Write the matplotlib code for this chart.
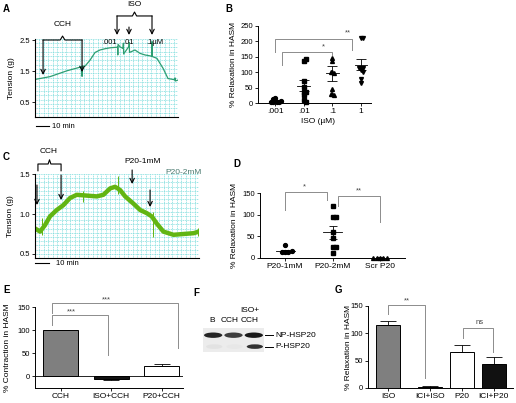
import numpy as np
import matplotlib.pyplot as plt
from matplotlib.patches import Rectangle, Ellipse

plt.rcParams['font.family'] = ['Liberation Sans', 'DejaVu Sans']
plt.rcParams['font.size'] = 5
plt.rcParams['axes.linewidth'] = 0.7
plt.rcParams['xtick.major.size'] = 2
plt.rcParams['ytick.major.size'] = 2
plt.rcParams['xtick.major.width'] = 0.6
plt.rcParams['ytick.major.width'] = 0.6
plt.rcParams['xtick.major.pad'] = 1.5
plt.rcParams['ytick.major.pad'] = 1.5

# ---- values ----
# A: tension trace (min, g)
a_time = [0, 11.5, 24.6, 36.0, 36.2, 36.4, 38.5, 42.3, 46.2, 50, 53.8, 57.7,
          63.5, 63.7, 63.9, 65.4, 67.7, 68.0, 68.2, 72.3, 72.5, 72.7, 76.9,
          80.8, 84.6, 89.9, 90.0, 90.2, 93.8, 98.5, 102.3, 107.5, 107.7, 107.9, 110]
a_tension = [1.23, 1.32, 1.51, 1.64, 1.33, 1.66, 1.66, 1.85, 2.10, 2.18, 2.22, 2.25,
             2.27, 2.02, 2.36, 2.28, 2.23, 2.40, 2.05, 2.30, 2.42, 2.10, 2.18,
             2.07, 2.02, 1.98, 2.45, 1.97, 1.91, 1.59, 1.26, 1.22, 1.28, 1.18, 1.21]
a_cch_times = [6.2, 36.2]
a_iso_times = [63.1, 72.3, 90.0]
a_iso_labels = ['.001', '.01', '.1\u00b5M']
a_label_times = [57.7, 72.3, 92.3]

# B: relaxation vs ISO dose
b_labels = ['.001', '.01', '.1', '1']
b_001 = [15, 6, 3, 2, 2, 4, 5, 14]
b_01 = [137, 143, 70, 51, 37, 37, 26, 10, 4]
b_1 = [146, 135, 102, 99, 100, 45, 29, 26, 28]
b_10 = [211, 211, 106, 113, 113, 102, 77, 66]
b_mean = [5, 56, 97, 124]
b_sem = [2, 18, 24, 18]

# C: tension trace, P20
c_time = [0, 3.6, 7.1, 10.7, 15.5, 20.2, 25, 29.8, 36.9, 44.1, 48.8, 53.6, 57.1,
          60.7, 64.3, 70.2, 75, 79.8, 83.3, 86.9, 91.6, 98.8, 105.9, 113.1, 117]
c_tension = [0.82, 0.78, 0.86, 0.97, 1.05, 1.11, 1.20, 1.24, 1.23, 1.22, 1.24, 1.32, 1.34,
             1.30, 1.22, 1.13, 1.05, 1.01, 0.97, 0.88, 0.78, 0.74, 0.75, 0.76, 0.78]
c_spike_t = [5, 34, 59, 84, 116]
c_spike_lo = [0.74, 1.15, 1.25, 0.71, 0.72]
c_spike_hi = [0.95, 1.29, 1.47, 1.02, 0.83]
c_cch_times = [1.4, 18.6]
c_p20_times = [69.3, 82.1]

# D: relaxation, P20
d_labels = ['P20-1mM', 'P20-2mM', 'Scr P20']
d_1mm = [30, 13, 13, 13, 17]
d_2mm = [121, 95, 95, 59, 46, 26, 26, 11]
d_scr = [1, 1, 1, 1, 1]
d_mean = [16, 59, 1]
d_sem = [3, 15, 0.3]

# E: contraction
e_labels = ['CCH', 'ISO+CCH', 'P20+CCH']
e_vals = [100, -5, 22]
e_err = [0, 2, 4]

# F: blot band intensities (lanes B, CCH, ISO+CCH)
f_np = [0.9, 0.8, 0.95]
f_p = [0.12, 0.1, 0.85]

# G: relaxation with ICI
g_labels = ['ISO', 'ICI+ISO', 'P20', 'ICI+P20']
g_pos = [0, 1.3, 2.3, 3.3]
g_vals = [116, 2, 66, 44]
g_err = [6, 1, 13, 12]

W, H = 516, 403
fig = plt.figure(figsize=(W / 100, H / 100), dpi=100)
LAB = 6
TCK = 5.5


def px_axes(l, t, r, b):
    return fig.add_axes([l / W, 1 - b / H, (r - l) / W, (b - t) / H])


def letter(x, y, s):
    fig.text(x / W, 1 - y / H, s, fontsize=7, weight='bold', va='center')


def chart_paper(ax, nx, ny):
    x0, x1 = ax.get_xlim()
    y0, y1 = ax.get_ylim()
    for x in np.linspace(x0, x1, nx):
        ax.axvline(x, color='#74dada', lw=0.5, ls=(0, (1.5, 1)), zorder=0)
    for y in np.linspace(y0, y1, ny):
        ax.axhline(y, color='#74dada', lw=0.5, ls=(0, (1.5, 1)), zorder=0)


def down_arrow(ax, x, y0, y1):
    ax.annotate('', xy=(x, y1), xytext=(x, y0), xycoords=ax.get_xaxis_transform(),
                arrowprops=dict(arrowstyle='->', lw=0.8, color='k', shrinkA=0,
                                shrinkB=0, mutation_scale=8),
                annotation_clip=False)


def brace(ax, x1, x2, y, h, legs):
    xm = (x1 + x2) / 2
    d = (x2 - x1) * 0.06
    ax.plot([x1, x1, xm - d, xm, xm + d, x2, x2],
            [y - legs, y, y, y + h, y, y, y - legs],
            color='k', lw=0.8, transform=ax.get_xaxis_transform(), clip_on=False)


def sig(ax, x1, x2, top, y1, y2, label, tx, ty):
    ax.plot([x1, x1, x2, x2], [y1, top, top, y2], color='#8c8c8c', lw=0.7, clip_on=False)
    ax.text(tx, ty, label, ha='center', va='center', fontsize=5.5, color='#444444')


def spread(vals, tol, step):
    offs, placed = [], []
    for v in vals:
        k = sum(1 for p in placed if abs(p - v) < tol)
        placed.append(v)
        sign = 1 if k % 2 else -1
        offs.append(0 if k == 0 else sign * ((k + 1) // 2) * step)
    return np.array(offs)


def clean(ax):
    ax.spines['top'].set_visible(False)
    ax.spines['right'].set_visible(False)
    ax.tick_params(labelsize=TCK)


def trace_panel(ax, ticks):
    clean(ax)
    ax.set_xticks([])
    ax.set_yticks(ticks)
    ax.spines['left'].set_linewidth(0.8)
    ax.spines['bottom'].set_linewidth(0.8)


# ---- A ----
letter(3, 9, 'A')
ax = px_axes(35, 38.5, 178, 117)
ax.set_xlim(0, 110)
ax.set_ylim(0.02, 2.55)
chart_paper(ax, 33, 19)
ax.plot(a_time, a_tension, color='#2e9e72', lw=0.9)
trace_panel(ax, [0.5, 1.5, 2.5])
ax.set_ylabel('Tension (g)', fontsize=LAB)
ax.yaxis.set_label_coords(-0.14, 0.5)
brace(ax, a_cch_times[0], a_cch_times[1], 0.981, 0.05, 0)
ax.text(np.mean(a_cch_times), 1.172, 'CCH', transform=ax.get_xaxis_transform(),
        ha='center', va='center', fontsize=LAB)
down_arrow(ax, a_cch_times[0], 0.981, 0.535)
down_arrow(ax, a_cch_times[1], 0.981, 0.573)
brace(ax, a_iso_times[0], a_iso_times[2], 1.287, 0.05, 0)
ax.text(np.mean([a_iso_times[0], a_iso_times[2]]), 1.43, 'ISO',
        transform=ax.get_xaxis_transform(), ha='center', va='center', fontsize=LAB)
down_arrow(ax, a_iso_times[0], 1.287, 1.045)
down_arrow(ax, a_iso_times[1], 1.146, 1.045)
down_arrow(ax, a_iso_times[2], 1.287, 1.045)
for t, s in zip(a_label_times, a_iso_labels):
    ax.text(t, 0.955, s, transform=ax.get_xaxis_transform(), ha='center',
            va='center', fontsize=TCK)
ax.plot([0.8, 10.8], [-0.115, -0.115], color='k', lw=0.8,
        transform=ax.get_xaxis_transform(), clip_on=False)
ax.text(13, -0.115, '10 min', transform=ax.get_xaxis_transform(), va='center', fontsize=TCK)

# ---- B ----
letter(225, 9, 'B')
ax = px_axes(258, 26, 371, 103)
clean(ax)
ax.set_xlim(-0.6, 3.35)
ax.set_ylim(0, 250)
for i, (pts, m) in enumerate(zip([b_001, b_01, b_1, b_10], ['o', 's', '^', 'v'])):
    ax.plot(i + spread(pts, 9, 0.065), pts, m, color='k', ms=2.8, ls='none', clip_on=False)
    ax.plot([i - 0.22, i + 0.22], [b_mean[i]] * 2, color='k', lw=0.6)
    ax.errorbar(i, b_mean[i], yerr=b_sem[i], color='k', lw=0.6, capsize=3.5, capthick=0.6)
ax.set_xticks(range(4))
ax.set_xticklabels(b_labels, fontsize=LAB)
ax.set_yticks(range(0, 251, 50))
ax.set_ylabel('% Relaxation in HASM', fontsize=LAB)
ax.yaxis.set_label_coords(-0.19, 0.5)
ax.set_xlabel('ISO (\u00b5M)', fontsize=LAB)
ax.xaxis.set_label_coords(0.53, -0.2)
sig(ax, 0, 2.68, 209, 167, 173, '**', 2.54, 229)
sig(ax, 0.24, 1.99, 167, 124, 157, '*', 1.67, 183)

# ---- C ----
letter(3, 157, 'C')
ax = px_axes(35, 174, 199, 258)
ax.set_xlim(0, 117)
ax.set_ylim(0.45, 1.5)
chart_paper(ax, 38, 21)
ax.plot(c_time, c_tension, color='#62b512', lw=3.2, solid_capstyle='butt')
ax.vlines(c_spike_t, c_spike_lo, c_spike_hi, color='#62b512', lw=0.7)
trace_panel(ax, [0.5, 1.0, 1.5])
ax.set_ylabel('Tension (g)', fontsize=LAB)
ax.yaxis.set_label_coords(-0.125, 0.5)
brace(ax, c_cch_times[0] + 0.7, c_cch_times[1], 1.119, 0.05, 0.08)
ax.text(np.mean(c_cch_times), 1.262, 'CCH', transform=ax.get_xaxis_transform(),
        ha='center', va='center', fontsize=LAB)
down_arrow(ax, c_cch_times[0], 0.869, 0.631)
down_arrow(ax, c_cch_times[1], 0.988, 0.690)
ax.text(77, 1.143, 'P20-1mM', transform=ax.get_xaxis_transform(), ha='center',
        va='center', fontsize=LAB)
down_arrow(ax, c_p20_times[0], 1.048, 0.881)
ax.text(105.7, 1.012, 'P20-2mM', transform=ax.get_xaxis_transform(), ha='center',
        va='center', fontsize=LAB, color='#4a7a70')
down_arrow(ax, c_p20_times[1], 0.810, 0.607)
ax.plot([0, 10], [-0.06, -0.06], color='k', lw=0.8,
        transform=ax.get_xaxis_transform(), clip_on=False)
ax.text(15, -0.06, '10 min', transform=ax.get_xaxis_transform(), va='center', fontsize=TCK)

# ---- D ----
letter(233, 164, 'D')
ax = px_axes(260, 193, 405, 258)
clean(ax)
ax.set_xlim(-0.53, 2.53)
ax.set_ylim(0, 150)
for i, (pts, m) in enumerate(zip([d_1mm, d_2mm, d_scr], ['o', 's', '^'])):
    ax.plot(i + spread(pts, 6, 0.07), pts, m, color='k', ms=2.8, ls='none', clip_on=False)
    ax.plot([i - 0.2, i + 0.2], [d_mean[i]] * 2, color='k', lw=0.6)
    ax.errorbar(i, d_mean[i], yerr=d_sem[i], color='k', lw=0.6, capsize=3, capthick=0.6)
ax.set_xticks(range(3))
ax.set_xticklabels(d_labels, fontsize=LAB)
ax.set_yticks([0, 50, 100, 150])
ax.set_ylabel('% Relaxation in HASM', fontsize=LAB)
ax.yaxis.set_label_coords(-0.15, 0.5)
sig(ax, 0, 0.88, 152, 111, 134, '*', 0.4, 164)
sig(ax, 1.12, 2.0, 144, 119, 83, '**', 1.56, 155)

# ---- E ----
letter(3, 290, 'E')
ax = px_axes(35, 307, 183, 388)
clean(ax)
ax.set_xlim(-0.51, 2.42)
ax.set_ylim(-25, 150)
ax.bar(range(3), e_vals, width=0.69, color=['#7f7f7f', '#111111', 'white'],
       edgecolor='k', lw=0.7)
lo = [e if v < 0 else 0 for v, e in zip(e_vals, e_err)]
hi = [e if v >= 0 else 0 for v, e in zip(e_vals, e_err)]
ax.errorbar(range(3), e_vals, yerr=[lo, hi], fmt='none', ecolor='k', lw=0.6,
            capsize=6, capthick=0.6)
ax.axhline(0, color='k', lw=0.6, zorder=0)
ax.set_xticks(range(3))
ax.set_xticklabels(e_labels, fontsize=LAB)
ax.set_yticks([0, 50, 100, 150])
ax.set_ylabel('% Contraction in HASM', fontsize=LAB)
ax.yaxis.set_label_coords(-0.16, 0.5)
sig(ax, -0.18, 2.32, 158, 137, 61, '***', 0.91, 166)
sig(ax, -0.18, 0.93, 133, 111, 46, '***', 0.22, 140)

# ---- F ----
letter(193, 293, 'F')
ax = px_axes(203, 328, 264, 352)
ax.set_xlim(0, 3)
ax.set_ylim(0, 2)
ax.axis('off')
ax.add_patch(Rectangle((0, 0), 3, 2, color='#ececec', lw=0))
for i, (a, b) in enumerate(zip(f_np, f_p)):
    ax.add_patch(Ellipse((i + 0.5, 1.4), 0.9, 0.45, color=str(1 - 0.95 * a), lw=0))
    ax.add_patch(Ellipse((i + 0.55, 0.45), 0.8, 0.38, color=str(1 - 0.95 * b), lw=0))
ax.text(0.45, 2.6, 'B', ha='center', va='center', fontsize=LAB)
ax.text(1.3, 2.6, 'CCH', ha='center', va='center', fontsize=LAB)
ax.text(2.3, 2.6, 'CCH', ha='center', va='center', fontsize=LAB)
ax.text(2.3, 3.45, 'ISO+', ha='center', va='center', fontsize=LAB)
for y, s in [(1.4, 'NP-HSP20'), (0.45, 'P-HSP20')]:
    ax.plot([3.05, 3.45], [y, y], color='k', lw=0.7, clip_on=False)
    ax.text(3.55, y, s, va='center', fontsize=LAB)

# ---- G ----
letter(335, 290, 'G')
ax = px_axes(368, 306, 513, 388)
clean(ax)
ax.set_xlim(-0.62, 3.9)
ax.set_ylim(0, 150)
ax.bar(g_pos, g_vals, width=0.75, color=['#7f7f7f', '#111111', 'white', '#111111'],
       edgecolor='k', lw=0.7)
ax.errorbar(g_pos, g_vals, yerr=[[0] * 4, g_err], fmt='none', ecolor='k', lw=0.6,
            capsize=6, capthick=0.6)
ax.set_xticks(g_pos)
ax.set_xticklabels(g_labels, fontsize=LAB)
ax.set_yticks([0, 50, 100, 150])
ax.set_ylabel('% Relaxation in HASM', fontsize=LAB)
ax.yaxis.set_label_coords(-0.11, 0.5)
sig(ax, 0, 1.16, 151, 136, 18, '**', 0.6, 160)
sig(ax, 2.34, 3.28, 109, 91, 65, 'ns', 2.87, 120)

fig.savefig('out.png', dpi=100)
